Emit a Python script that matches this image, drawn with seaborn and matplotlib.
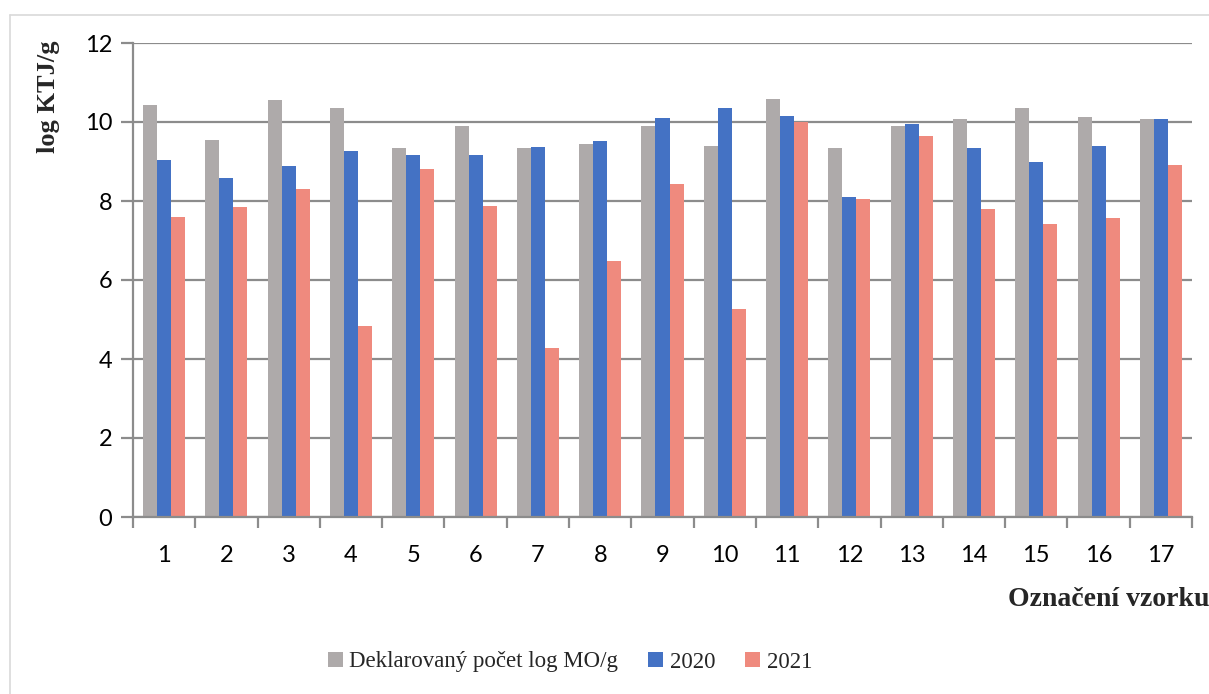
import matplotlib
matplotlib.use("Agg")
import matplotlib.pyplot as plt
import seaborn as sns
import pandas as pd
import numpy as np
from matplotlib.lines import Line2D

# Sample labels and measured values (log KTJ/g)
samples = [str(i) for i in range(1, 18)]
declared = [10.44, 9.55, 10.55, 10.35, 9.34, 9.89, 9.35, 9.44, 9.91, 9.39,
            10.59, 9.34, 9.90, 10.08, 10.35, 10.13, 10.08]
year_2020 = [9.03, 8.58, 8.89, 9.26, 9.17, 9.16, 9.37, 9.51, 10.09, 10.36,
             10.14, 8.09, 9.95, 9.33, 8.99, 9.40, 10.08]
year_2021 = [7.60, 7.86, 8.30, 4.84, 8.82, 7.87, 4.28, 6.49, 8.42, 5.26,
             10.00, 8.04, 9.64, 7.79, 7.42, 7.58, 8.90]
series_names = ["Deklarovaný počet log MO/g", "2020", "2021"]
series_colors = ["#AEAAAA", "#4472C4", "#EF8A7E"]
y_ticks = [0, 2, 4, 6, 8, 10, 12]

df = pd.DataFrame({
    "vzorek": samples * 3,
    "hodnota": declared + year_2020 + year_2021,
    "serie": [series_names[0]] * 17 + [series_names[1]] * 17 + [series_names[2]] * 17,
})

sns.set_theme(style="white")
plt.rcParams["font.family"] = ["Lato", "DejaVu Sans"]

W, H = 1209, 694
fig = plt.figure(figsize=(W / 100, H / 100), dpi=100)
ax = fig.add_axes([133 / W, 1 - 517 / H, (1192 - 133) / W, (517 - 43) / H])

sns.barplot(data=df, x="vzorek", y="hodnota", hue="serie", order=samples,
            hue_order=series_names, palette=series_colors, width=0.675,
            saturation=1, edgecolor="none", ax=ax, legend=False)

grid_col = "#8C8C8C"
ax.set_ylim(0, 12)
ax.set_xlim(-0.5, len(samples) - 0.5)
ax.set_yticks(y_ticks)
ax.set_yticklabels([str(t) for t in y_ticks])
ax.yaxis.grid(True, color=grid_col, linewidth=1.6)
ax.set_axisbelow(True)
for side in ["top", "right"]:
    ax.spines[side].set_visible(False)
for side in ["left", "bottom"]:
    ax.spines[side].set_color(grid_col)
    ax.spines[side].set_linewidth(1.6)

# category boundaries carry the tick marks, labels sit at the centres
ax.set_xticks(np.arange(-0.5, len(samples), 1.0), minor=True)
ax.tick_params(axis="x", which="major", length=0, labelsize=17, pad=20, colors="black")
ax.tick_params(axis="x", which="minor", length=8, width=1.6, color=grid_col, bottom=True)
ax.tick_params(axis="y", which="major", length=9, width=1.6, color=grid_col,
               labelsize=17, pad=6, left=True, labelcolor="black")

ax.set_xlabel("")
ax.set_ylabel("")
fig.text(48 / W, 1 - 97 / H, "log KTJ/g", rotation=90, ha="center", va="center",
         fontsize=19, fontweight="bold", family="Liberation Serif")
fig.text(1209 / W, 1 - 600 / H, "Označení vzorku", ha="right", va="center",
         fontsize=20, fontweight="bold", family="Liberation Serif")

# outer chart frame
frame_col = "#D9D9D9"
fig.add_artist(Line2D([10 / W, 10 / W], [0, 1 - 15 / H], transform=fig.transFigure,
                      color=frame_col, linewidth=1.2))
fig.add_artist(Line2D([10 / W, 1], [1 - 15 / H, 1 - 15 / H], transform=fig.transFigure,
                      color=frame_col, linewidth=1.2))

handles = [plt.Rectangle((0, 0), 1, 1, facecolor=c, edgecolor="none") for c in series_colors]
fig.legend(handles, series_names, loc="center", bbox_to_anchor=(570 / W, 1 - 662 / H),
           ncol=3, frameon=False, handlelength=0.65, handleheight=0.65, handletextpad=0.3,
           columnspacing=1.3, prop={"family": "Liberation Serif", "size": 16.5})

fig.savefig("out.png", dpi=100)
